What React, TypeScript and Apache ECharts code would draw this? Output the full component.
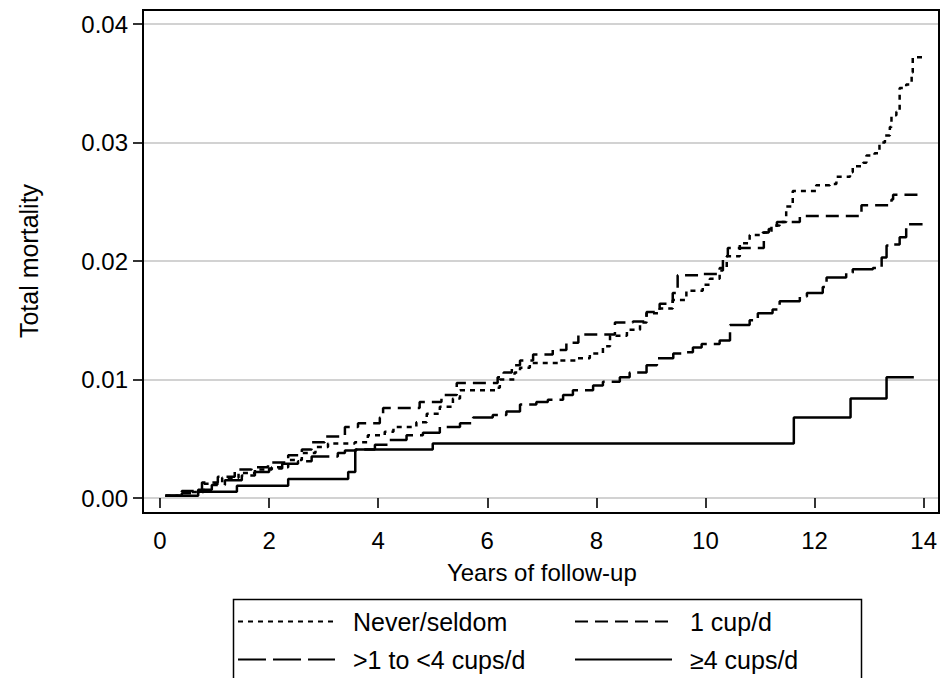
import React, { useEffect, useRef } from "react";
import * as echarts from "echarts";

const seriesNames = ["Never/seldom", "1 cup/d", ">1 to <4 cups/d", "≥4 cups/d"];

const neverYears = [0.1, 0.4, 0.8, 1.14, 1.44, 1.74, 2.05, 2.35, 2.6, 2.85, 3.08, 3.57, 3.81, 4.12, 4.28, 4.7, 4.89, 5.13, 5.37, 5.5, 6.17, 6.23, 6.5, 6.6, 6.78, 7.33, 7.64, 7.88, 8.12, 8.25, 8.56, 8.8, 8.92, 9.16, 9.4, 9.65, 9.95, 10.08, 10.26, 10.39, 10.63, 10.81, 11.05, 11.21, 11.36, 11.48, 11.6, 12.03, 12.28, 12.4, 12.65, 12.7, 12.89, 12.95, 13.1, 13.19, 13.29, 13.38, 13.41, 13.5, 13.56, 13.68, 13.78, 13.8, 13.98];
const neverRisk = [0.0002, 0.0005, 0.0012, 0.0017, 0.0021, 0.0024, 0.0026, 0.0032, 0.0038, 0.0043, 0.0046, 0.0047, 0.0053, 0.0056, 0.006, 0.0064, 0.0071, 0.0077, 0.0084, 0.0091, 0.0093, 0.01, 0.0106, 0.011, 0.0114, 0.0116, 0.0118, 0.0122, 0.0128, 0.0137, 0.0142, 0.0148, 0.0156, 0.016, 0.0167, 0.0175, 0.018, 0.0185, 0.0194, 0.0204, 0.0215, 0.0222, 0.0224, 0.023, 0.0233, 0.0246, 0.0259, 0.0264, 0.0265, 0.0271, 0.0275, 0.028, 0.0283, 0.0289, 0.0291, 0.03, 0.0306, 0.0313, 0.0323, 0.0326, 0.0346, 0.0349, 0.0359, 0.0372, 0.0372];

const oneCupYears = [0.1, 0.4, 0.77, 1.06, 1.37, 1.68, 1.98, 2.35, 2.6, 2.78, 3.02, 3.39, 3.63, 4.03, 4.09, 4.76, 5.16, 5.44, 6.19, 6.3, 6.45, 6.6, 6.84, 7.2, 7.45, 7.67, 8.34, 8.67, 8.92, 9.16, 9.4, 9.49, 9.93, 10.21, 10.32, 10.41, 11.07, 11.16, 11.31, 11.73, 12.86, 13.41, 13.44, 13.98];
const oneCupRisk = [0.0002, 0.0006, 0.0013, 0.0018, 0.0024, 0.0026, 0.003, 0.0036, 0.0041, 0.0047, 0.0052, 0.006, 0.0063, 0.0068, 0.0076, 0.0081, 0.0087, 0.0097, 0.0102, 0.0106, 0.0112, 0.0116, 0.0121, 0.0125, 0.0131, 0.0138, 0.0148, 0.0149, 0.0157, 0.0164, 0.0173, 0.0188, 0.0189, 0.0192, 0.0204, 0.0211, 0.0224, 0.0227, 0.0233, 0.0238, 0.0247, 0.0252, 0.0256, 0.0256];

const midYears = [0.1, 0.4, 0.7, 0.95, 1.19, 1.5, 1.74, 2.0, 2.24, 2.53, 2.78, 3.26, 3.39, 3.6, 3.94, 4.21, 4.52, 4.82, 5.13, 5.5, 5.74, 6.1, 6.35, 6.6, 6.9, 7.11, 7.39, 7.57, 7.94, 8.12, 8.43, 8.61, 8.92, 9.11, 9.41, 9.58, 9.77, 9.93, 10.26, 10.45, 10.81, 10.96, 11.23, 11.36, 11.73, 11.86, 12.15, 12.22, 12.58, 12.7, 13.07, 13.23, 13.32, 13.44, 13.56, 13.68, 13.98];
const midRisk = [0.0002, 0.0004, 0.0007, 0.0011, 0.0015, 0.0019, 0.0022, 0.0025, 0.0029, 0.0031, 0.0035, 0.0038, 0.004, 0.0041, 0.0045, 0.0049, 0.0053, 0.0055, 0.006, 0.0063, 0.0068, 0.007, 0.0073, 0.0079, 0.0081, 0.0083, 0.0087, 0.0091, 0.0095, 0.0098, 0.0102, 0.0106, 0.0112, 0.0118, 0.0122, 0.0123, 0.0127, 0.013, 0.0133, 0.0146, 0.015, 0.0156, 0.0159, 0.0166, 0.017, 0.0173, 0.0178, 0.0186, 0.019, 0.0193, 0.0194, 0.0203, 0.0213, 0.0214, 0.022, 0.0231, 0.0231];

const fourYears = [0.1, 0.7, 1.41, 2.35, 3.45, 3.58, 5.0, 11.62, 12.66, 13.32, 13.82];
const fourRisk = [0.0002, 0.00053, 0.00104, 0.0016, 0.0022, 0.0041, 0.0046, 0.0068, 0.0084, 0.0102, 0.0102];

const xMin = 0;
const xMax = 14;
const xStep = 2;
const yMin = 0;
const yMax = 0.04;
const yStep = 0.01;

const zip = (a: number[], b: number[]) => a.map((t, i) => [t, b[i]]);

export default function App() {
  const ref = useRef<HTMLDivElement>(null);
  useEffect(() => {
    if (!ref.current) return;
    const chart = echarts.init(ref.current, null, { renderer: "svg" });
    const font = "'Liberation Sans', Arial, Helvetica, sans-serif";
    const lineSeries = (name: string, data: number[][], type: any) => ({
      name,
      type: "line",
      xAxisIndex: 0,
      yAxisIndex: 0,
      step: "end",
      symbol: "none",
      symbolSize: 0,
      showSymbol: false,
      data,
      z: 3,
      lineStyle: { color: "#000", width: 2.5, type },
      itemStyle: { color: "#000" },
    });
    const legendBase = {
      orient: "vertical",
      top: 608,
      height: 90,
      padding: 0,
      itemWidth: 97,
      itemHeight: 20,
      itemGap: 11,
      selectedMode: false,
      itemStyle: { opacity: 0 },
      textStyle: {
        fontSize: 25,
        lineHeight: 27,
        color: "#000",
        fontFamily: font,
        padding: [0, 0, 0, 13],
      },
    };
    chart.setOption({
      animation: false,
      backgroundColor: "#fff",
      textStyle: { fontFamily: font, color: "#000" },
      grid: [
        { left: 160, top: 24, width: 764, height: 474, show: false },
        { left: 143, top: 24, width: 796, height: 474, show: false },
        {
          left: 143,
          top: 10,
          width: 796,
          height: 503,
          show: true,
          borderColor: "#000",
          borderWidth: 2,
          backgroundColor: "transparent",
          z: 4,
        },
      ],
      xAxis: [
        {
          gridIndex: 0,
          type: "value",
          min: xMin,
          max: xMax,
          interval: xStep,
          position: "bottom",
          offset: 15,
          axisLine: { show: false },
          axisTick: { show: true, length: 10, lineStyle: { color: "#000", width: 1.6 } },
          axisLabel: { margin: 15, fontSize: 24, color: "#000", fontFamily: font },
          splitLine: { show: false },
          name: "Years of follow-up",
          nameLocation: "middle",
          nameGap: 47,
          nameTextStyle: { fontSize: 24, color: "#000", fontFamily: font },
        },
        { gridIndex: 1, type: "value", min: 0, max: 1, show: false },
        { gridIndex: 2, type: "value", min: 0, max: 1, show: false },
      ],
      yAxis: [
        { gridIndex: 0, type: "value", min: yMin, max: yMax, show: false },
        {
          gridIndex: 1,
          type: "value",
          min: yMin,
          max: yMax,
          interval: yStep,
          position: "left",
          axisLine: { show: false },
          axisTick: { show: true, length: 10, lineStyle: { color: "#000", width: 1.6 } },
          axisLabel: {
            margin: 15,
            fontSize: 24,
            color: "#000",
            fontFamily: font,
            formatter: (v: number) => v.toFixed(2),
          },
          splitLine: { show: true, lineStyle: { color: "#d2d2d2", width: 1.8 } },
          name: "Total mortality",
          nameLocation: "middle",
          nameRotate: 90,
          nameGap: 102,
          nameTextStyle: { fontSize: 25, color: "#000", fontFamily: font },
        },
        { gridIndex: 2, type: "value", min: 0, max: 1, show: false },
      ],
      legend: [
        { ...legendBase, left: 237, data: [seriesNames[0], seriesNames[2]] },
        { ...legendBase, left: 574, data: [seriesNames[1], seriesNames[3]] },
      ],
      graphic: [
        {
          type: "rect",
          left: 231,
          top: 597,
          shape: { width: 628, height: 80 },
          style: { fill: "none", stroke: "#000", lineWidth: 1.5 },
        },
      ],
      series: [
        lineSeries(seriesNames[0], zip(neverYears, neverRisk), [5, 5]),
        lineSeries(seriesNames[1], zip(oneCupYears, oneCupRisk), [13, 7]),
        lineSeries(seriesNames[2], zip(midYears, midRisk), [28, 7]),
        lineSeries(seriesNames[3], zip(fourYears, fourRisk), "solid"),
      ],
    });
    return () => chart.dispose();
  }, []);
  return (
    <div
      ref={ref}
      style={{ position: "fixed", left: 0, top: 0, width: 940, height: 678, background: "#fff" }}
    />
  );
}
